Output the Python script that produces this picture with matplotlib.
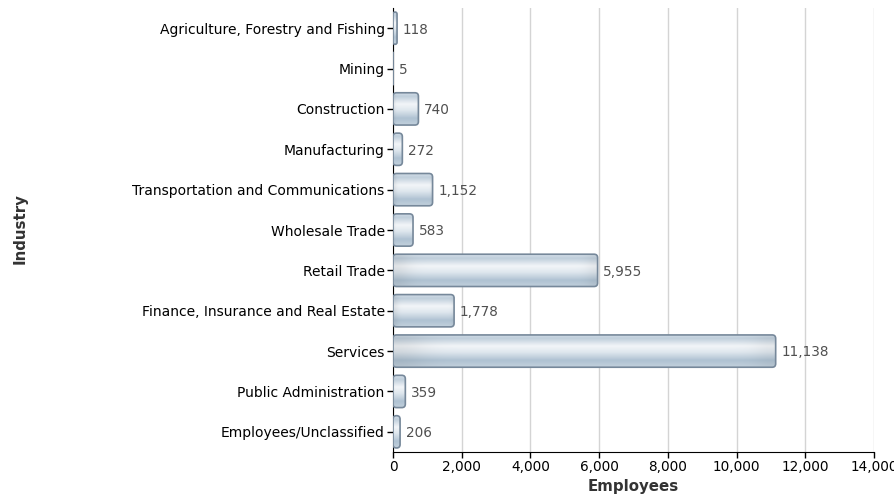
import numpy as np
import matplotlib
matplotlib.use("Agg")
import matplotlib.pyplot as plt
from matplotlib.patches import FancyBboxPatch
from matplotlib.colors import LinearSegmentedColormap
from matplotlib.ticker import FuncFormatter

categories = [
    "Agriculture, Forestry and Fishing",
    "Mining",
    "Construction",
    "Manufacturing",
    "Transportation and Communications",
    "Wholesale Trade",
    "Retail Trade",
    "Finance, Insurance and Real Estate",
    "Services",
    "Public Administration",
    "Employees/Unclassified",
]
values = [118, 5, 740, 272, 1152, 583, 5955, 1778, 11138, 359, 206]
x_ticks = [0, 2000, 4000, 6000, 8000, 10000, 12000, 14000]

plt.rcParams['font.family'] = ['DejaVu Sans']
W, H, DPI = 894, 497, 100
fig = plt.figure(figsize=(W / DPI, H / DPI), dpi=DPI)
L, R, T, B = 393, 874, 8, 452
ax = fig.add_axes([L / W, 1 - B / H, (R - L) / W, (B - T) / H])

ypos = np.arange(len(categories))
bars = ax.barh(ypos, values, height=0.8, color='none', edgecolor='none', zorder=2)

ax.set_xlim(0, 14000)
ax.set_ylim(len(categories) - 0.5, -0.5)

# pixel scales
xu_per_px = 14000 / (R - L)
yu_per_px = len(categories) / (B - T)
r_px = 3.5
aspect = yu_per_px / xu_per_px

# gradient image (rows top -> bottom)
stops = [(0.0, "#d6e0e9"), (0.12, "#bfcedb"), (0.36, "#f2f5f8"),
         (0.55, "#dfe7ee"), (0.8, "#afc2d2"), (1.0, "#c2d0dc")]
cmap = LinearSegmentedColormap.from_list("barg", stops)
rows = np.linspace(0, 1, 64)
col_img = cmap(rows)[:, :3]

for rect, v in zip(bars, values):
    x0, y0 = rect.get_x(), rect.get_y()
    w, h = rect.get_width(), rect.get_height()
    wpx = w / xu_per_px
    rr = min(r_px, wpx / 2.0) * xu_per_px
    patch = FancyBboxPatch((x0, y0), w, h,
                           boxstyle=f"round,pad=0,rounding_size={rr}",
                           mutation_aspect=aspect,
                           facecolor='none', edgecolor='#76889a',
                           linewidth=1.2, zorder=4)
    ax.add_patch(patch)
    ncols = 64
    cx = np.linspace(0, 1, ncols)
    shade = 1 - 0.07 * np.exp(-((cx) / 0.08) ** 2) - 0.05 * np.exp(-((1 - cx) / 0.05) ** 2)
    img = col_img[:, None, :] * shade[None, :, None]
    img = np.clip(img, 0, 1)
    im = ax.imshow(img, extent=(x0, x0 + w, y0 + h, y0), origin='upper',
                   aspect='auto', interpolation='bilinear', zorder=3)
    im.set_clip_path(patch)
    ax.annotate(f"{v:,}", xy=(x0 + w, y0 + h / 2), xytext=(4, -1),
                textcoords='offset points', va='center', ha='left',
                fontsize=9.8, color='#505050', zorder=5)

ax.set_xlim(0, 14000)
ax.set_ylim(len(categories) - 0.5, -0.5)

ax.set_yticks(ypos)
ax.set_yticklabels(categories, fontsize=10, color='black')
ax.set_xticks(x_ticks)
ax.xaxis.set_major_formatter(FuncFormatter(lambda v, p: f"{int(v):,}"))
ax.tick_params(axis='x', labelsize=9.8, length=4, width=1, color='black', pad=2)
ax.tick_params(axis='y', length=4, width=1, color='black', pad=2)

ax.grid(axis='x', color='#d4d4d4', linewidth=1, zorder=0)
ax.set_axisbelow(True)
for s in ['top', 'right']:
    ax.spines[s].set_visible(False)
ax.spines['left'].set_color('black')
ax.spines['bottom'].set_color('black')

fig.text(20 / W, 1 - 229 / H, "Industry", rotation=90, ha='center', va='center',
         fontsize=10.8, fontweight='bold', color='#333333')
fig.text((L + R) / 2 / W, 1 - 486 / H, "Employees", ha='center', va='center',
         fontsize=10.8, fontweight='bold', color='#333333')

fig.savefig("out.png", dpi=DPI)
